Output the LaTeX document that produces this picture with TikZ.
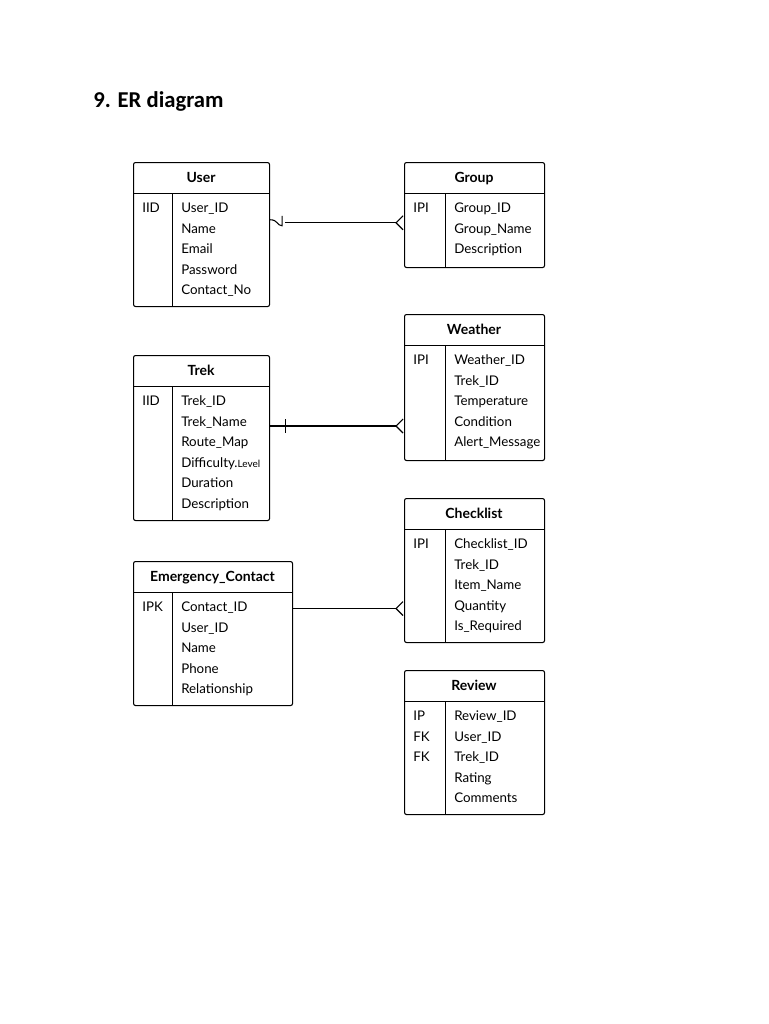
\documentclass[tikz,border=0pt]{standalone}
\usepackage{fontspec}
\setmainfont{Lato}
\newfontfamily\titlefont{Carlito}
\usetikzlibrary{calc}

% one entity box: name, x, top y, width, height, key column width, title, keys, fields
\newcommand{\erbox}[9]{
  \node (#1) [ebox, minimum width=#4*0.75pt, minimum height=#5*0.75pt, anchor=north west] at (#2,#3) {};
  \node (#1-title) [etitle] at ($(#2,#3)+(#4/2,17)$) {#7};
  \draw ($(#2,#3)+(0,31)$) -- ($(#2,#3)+(#4,31)$);
  \draw ($(#2,#3)+(#6,31)$) -- ($(#2,#3)+(#6,#5)$);
  \foreach \k [count=\i] in {#8}
    \node (#1-k\i) [efield] at ($(#2,#3)+(9,47.5+20.5*\i-20.5)$) {\k};
  \foreach \f [count=\i] in {#9}
    \node (#1-\i) [efield] at ($(#2,#3)+(#6+9,47.5+20.5*\i-20.5)$) {\f};
}

\begin{document}
\begin{tikzpicture}[x=0.75pt,y=-0.75pt]
    \tikzstyle{ebox} = [rectangle, rounded corners=1.5pt, draw=black, line width=0.8pt, inner sep=0pt]
    \tikzstyle{etitle} = [font=\fontsize{10.5}{12}\selectfont\bfseries, inner sep=0pt, text height=7.5pt, text depth=2pt]
    \tikzstyle{efield} = [font=\fontsize{10}{12}\selectfont, anchor=west, inner sep=0pt, text height=7pt, text depth=2pt]
    \tikzstyle{link} = [line width=0.8pt]

    \useasboundingbox (0,0) rectangle (768,1024);
    \node (heading) [font=\titlefont\fontsize{17}{20}\selectfont\bfseries, anchor=west, inner sep=0pt] at (93,101) {9. ER diagram};

    \erbox{user}{133}{162}{136}{144}{39}{User}{IID}{User\_ID,Name,Email,Password,Contact\_No}
    \erbox{group}{404}{162}{140}{105}{41}{Group}{IPI}{Group\_ID,Group\_Name,Description}
    \erbox{weather}{404}{314}{140}{146}{41}{Weather}{IPI}{Weather\_ID,Trek\_ID,Temperature,Condition,Alert\_Message}
    \erbox{trek}{133}{355}{136}{165}{39}{Trek}{IID}{Trek\_ID,Trek\_Name,Route\_Map,{Difficulty.{\fontsize{7.5}{9}\selectfont Level}},Duration,Description}
    \erbox{checklist}{404}{498}{140}{144}{41}{Checklist}{IPI}{Checklist\_ID,Trek\_ID,Item\_Name,Quantity,Is\_Required}
    \erbox{emergency}{133}{561}{159}{144}{39}{Emergency\_Contact}{IPK}{Contact\_ID,User\_ID,Name,Phone,Relationship}
    \erbox{review}{404}{670}{140}{144}{41}{Review}{IP,FK,FK}{Review\_ID,User\_ID,Trek\_ID,Rating,Comments}

    % User -- Group
    \coordinate (ug) at ($(user-1)!0.5!(user-2)+(0,3)$);
    \draw [link] (user.east |- ug) ++(0,-3) .. controls ++(8,0) and ++(-5,0) .. ++(12,6) -- ++(0,-10);
    \draw [link] ($(user.east |- ug)+(15,0)$) -- ($(group.west |- ug)+(-8,0)$);
    \draw [link] ($(group.west |- ug)+(-1,-7)$) -- ($(group.west |- ug)+(-8,0)$) -- ($(group.west |- ug)+(-1,7)$);
    % Trek -- Weather
    \draw [link] (trek.east |- trek-2) ++(0,3) -- ($(weather.west |- trek-2)+(-8,3)$);
    \draw [link] ($(trek.east |- trek-2)+(15,-4)$) -- ++(0,14);
    \draw [link] ($(weather.west |- trek-2)+(-1,-4)$) -- ($(weather.west |- trek-2)+(-8,3)$) -- ($(weather.west |- trek-2)+(-1,10)$);
    % Emergency_Contact -- Checklist
    \draw [link] (emergency.east |- emergency-1) -- ($(checklist.west |- emergency-1)+(-8,0)$);
    \draw [link] ($(checklist.west |- emergency-1)+(-1,-7)$) -- ($(checklist.west |- emergency-1)+(-8,0)$) -- ($(checklist.west |- emergency-1)+(-1,7)$);
\end{tikzpicture}
\end{document}
